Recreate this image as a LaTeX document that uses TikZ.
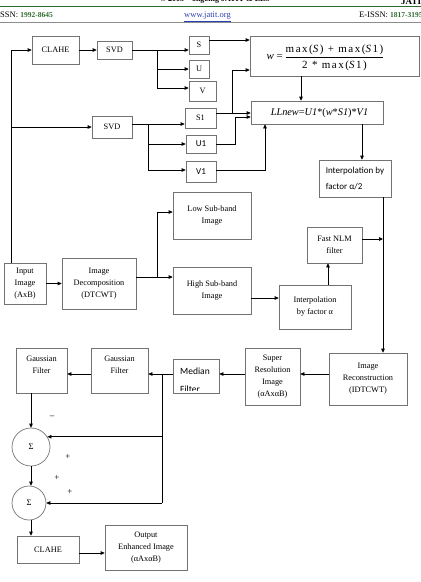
\documentclass[tikz,border=0pt]{standalone}
\usepackage{fontspec}
\setmainfont{Liberation Serif}
\newfontfamily\calib{Carlito}
\usetikzlibrary{arrows.meta,calc}
\definecolor{jgreen}{HTML}{2E6B2E}
\definecolor{jblue}{HTML}{2A3FB0}
\newcommand\mybox[7][box]{\node[#1, minimum width={(#5)-(#3)}, minimum height={(#6)-(#4)}] (#2) at ({((#3)+(#5))/2},{((#4)+(#6))/2}) {#7};}
\begin{document}
\begin{tikzpicture}[x=1pt,y=-1pt,
  box/.style={draw=black!55, line width=0.7pt, inner sep=0pt, align=center, font=\fontsize{8.3}{12}\selectfont},
  sbox/.style={box, font=\calib\fontsize{9}{12}\selectfont},
  arr/.style={draw=black, line width=0.7pt, -{Triangle[length=4pt,width=3.6pt]}},
  ln/.style={draw=black, line width=0.7pt},
  sig/.style={circle, draw=black!55, line width=0.7pt, inner sep=0pt, font=\fontsize{8.5}{10}\selectfont},
  sign/.style={inner sep=0pt, font=\fontsize{9}{10}\selectfont}
]
\useasboundingbox (0,0) rectangle (421,582);
% header
\node[anchor=base, inner sep=0pt, font=\bfseries\fontsize{8}{9}\selectfont] (toptxt) at (215,1.3) {© 2005 – ongoing JATIT \& LLS};
\node[anchor=base west, inner sep=0pt, font=\bfseries\fontsize{9}{9}\selectfont] (logo) at (401,4.5) {JATIT};
\draw[jgreen, line width=1.4pt] (0,6.5) -- (421,6.5);
\draw[black!45, line width=0.6pt] (0,22) -- (421,22);
\node[anchor=base west, inner sep=0pt, font=\fontsize{8.5}{10}\selectfont] (issn) at (0,17.5) {SSN: \textcolor{jgreen}{\bfseries\fontsize{7.5}{9}\selectfont 1992-8645}};
\node[anchor=base, inner sep=0pt, text=jblue, font=\fontsize{8.5}{10}\selectfont] (url) at (207.5,17.5) {\underline{www.jatit.org}};
\node[anchor=base west, inner sep=0pt, font=\fontsize{8.5}{10}\selectfont] (eissn) at (359,17.5) {E-ISSN: \textcolor{jgreen}{\bfseries\fontsize{7.5}{9}\selectfont 1817-3195}};

% boxes
\mybox{clahe1}{32}{36}{79}{64}{CLAHE}
\mybox{svd1}{97}{41}{132}{59}{SVD}
\mybox{S}{189}{36}{209}{54}{S}
\mybox{U}{189}{60}{209}{78}{U}
\mybox{V}{189}{81}{216}{101}{V}
\mybox{wbox}{250}{36}{419}{76}{}
\node[inner sep=0pt, font=\fontsize{11}{13}\selectfont] (wform) at (325,57)
  {\textit{w} = \renewcommand\arraystretch{1.2}\begin{tabular}{@{}c@{}}{\addfontfeature{LetterSpace=14}max(\textit{S}) + max(\textit{S}1)}\\\hline {\addfontfeature{LetterSpace=14}2 * max(\textit{S}1)}\end{tabular}};
\mybox{svd2}{92}{116}{132}{138}{SVD}
\mybox{S1}{185}{108}{216}{128}{S1}
\mybox[sbox]{U1}{186}{135}{216}{153}{U1}
\mybox[sbox]{V1}{186}{161}{216}{182}{V1}
\mybox{LLnew}{251}{101}{383}{124}{}
\node[inner sep=0pt, font=\fontsize{10.3}{12}\selectfont] (llform) at (319.5,113)
  {\textit{LLnew}=\textit{U1}*(\textit{w}*\textit{S1})*\textit{V1}};
\mybox[sbox,align=left,font=\calib\fontsize{9}{16}\selectfont]{interp2}{319}{160}{391}{197}{Interpolation by\\factor α/2}
\mybox{low}{173}{192}{251}{239}{Low Sub-band\\Image}
\mybox{nlm}{307}{227}{362}{263}{Fast NLM\\filter}
\mybox{input}{4}{263}{46}{304}{Input\\Image\\(AxB)}
\mybox{decomp}{62}{258}{136}{309}{Image\\Decomposition\\(DTCWT)}
\mybox{high}{173}{267}{251}{314}{High Sub-band\\Image}
\mybox{interpA}{279}{285}{351}{329}{Interpolation\\by factor α}
\mybox{recon}{329}{353}{407}{405}{Image\\Reconstruction\\(IDTCWT)}
\mybox{sr}{245}{348}{300}{405}{Super\\Resolution\\Image\\(αAxαB)}
\mybox{median}{173}{359}{219}{393}{}
\begin{scope}
\clip (173,359) rectangle (219,390.5);
\node[anchor=base west, inner sep=0pt, font=\calib\fontsize{9.5}{12}\selectfont] (medtxt1) at (180,374) {Median};
\node[anchor=base west, inner sep=0pt, font=\calib\fontsize{9.5}{12}\selectfont] (medtxt2) at (180,392) {Filter};
\end{scope}
\mybox{gauss2}{91}{348}{148}{393}{Gaussian\\Filter\\\mbox{}}
\mybox{gauss1}{16}{348}{67}{393}{Gaussian\\Filter\\\mbox{}}
\node[sig, minimum size=38pt] (sig1) at (31,447) {Σ};
\node[sig, minimum size=34pt] (sig2) at (29,503) {Σ};
\mybox{clahe2}{17}{536}{79}{563}{CLAHE}
\mybox{output}{105}{525}{187}{570}{Output\\Enhanced Image\\(αAxαB)}

% signs
\node[sign] (m1) at (52,417) {–};
\node[sign] (p1) at (68,457) {+};
\node[sign] (p2) at (57,478) {+};
\node[sign] (p3) at (70,492) {+};

% connectors
\coordinate (xL) at (11,0);
\draw[arr] (xL |- input.north) |- (clahe1.west);
\draw[arr] (xL |- svd2.west) -- (svd2.west);
\draw[arr] (clahe1.east) -- (clahe1.east -| svd1.west);
\draw[arr] (svd1.east) -- (svd1.east -| S.west);
\coordinate (b1) at (157,50);
\draw[arr] (b1) |- (U.west);
\coordinate (vy) at (157,88);
\draw[arr] (b1) -- (vy) -- (vy -| V.west);
\coordinate (sw) at (0,40);
\draw[arr] (sw -| S.east) -- (sw -| wbox.west);
\coordinate (xw) at (301,0);
\draw[arr] (xw |- wbox.south) -- (xw |- LLnew.north);
\coordinate (b2) at (148,124);
\draw[arr] (b2 -| svd2.east) -- (b2 -| S1.west);
\draw[arr] (b2) |- (U1.west);
\coordinate (v1y) at (148,170);
\draw[arr] (b2) -- (v1y) -- (v1y -| V1.west);
\coordinate (s1y) at (232,113);
\draw[arr] (s1y -| S1.east) -- (s1y -| LLnew.west);
\coordinate (wy) at (232,70);
\draw[arr] (s1y) -- (wy) -- (wy -| wbox.west);
\coordinate (u1k) at (235,117);
\draw[arr] (U1.east) -| (u1k) -- (u1k -| LLnew.west);
\coordinate (v1out) at (0,170);
\coordinate (xv) at (265,0);
\draw[arr] (v1out -| V1.east) -| (xv |- LLnew.south);
\coordinate (xi) at (362,0);
\draw[arr] (xi |- LLnew.south) -- (xi |- interp2.north);
\coordinate (xr) at (383,0);
\draw[arr] (xr |- interp2.south) -- (xr |- recon.north);
\coordinate (ny) at (0,239);
\draw[arr] (ny -| nlm.east) -- (ny -| xr);
\draw[arr] (input.east) -- (input.east -| decomp.west);
\coordinate (b3) at (157,277);
\draw[arr] (b3 -| decomp.east) -- (b3 -| high.west);
\coordinate (ly) at (157,212);
\draw[arr] (b3) -- (ly) -- (ly -| low.west);
\coordinate (hy) at (0,298);
\draw[arr] (hy -| high.east) -- (hy -| interpA.west);
\coordinate (xa) at (328,0);
\draw[arr] (xa |- interpA.north) -- (xa |- nlm.south);
\coordinate (ry) at (0,374);
\draw[arr] (ry -| recon.west) -- (ry -| sr.east);
\draw[arr] (ry -| sr.west) -- (ry -| median.east);
\draw[arr] (ry -| median.west) -- (ry -| gauss2.east);
\draw[arr] (ry -| gauss2.west) -- (ry -| gauss1.east);
\coordinate (b4) at (162,374);
\coordinate (b4e) at (162,503);
\draw[ln] (b4) -- (b4e);
\draw[arr] (b4 |- sig1.32) -- (sig1.32);
\draw[arr] (b4e) -- (sig2.east);
\coordinate (xg) at (31,0);
\draw[arr] (xg |- gauss1.south) -- (sig1.north);
\draw[arr] (sig1.south) -- (xg |- sig2.north);
\draw[arr] (xg |- sig2.south) -- (xg |- clahe2.north);
\coordinate (oy) at (0,553);
\draw[arr] (oy -| clahe2.east) -- (oy -| output.west);
\end{tikzpicture}
\end{document}
